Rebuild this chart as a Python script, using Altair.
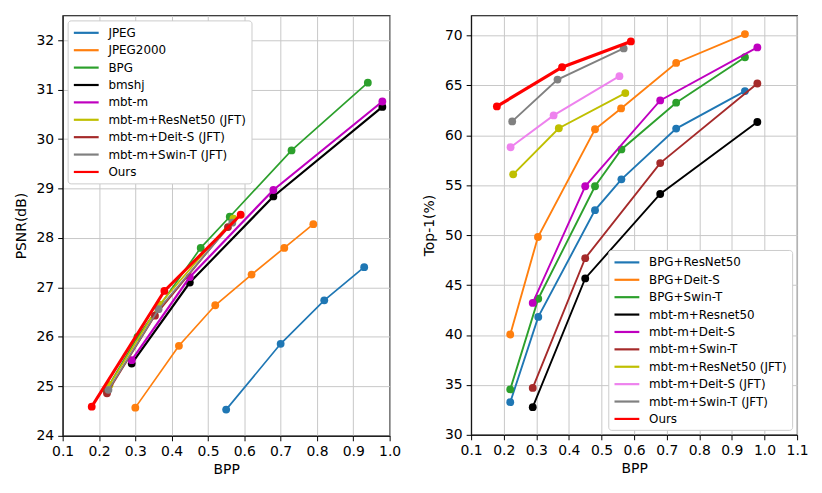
import altair as alt
import pandas as pd

FONT = "DejaVu Sans"

# ---------------- Left panel: PSNR vs BPP ----------------
left_names = ["JPEG", "JPEG2000", "BPG", "bmshj", "mbt-m",
              "mbt-m+ResNet50 (JFT)", "mbt-m+Deit-S (JFT)", "mbt-m+Swin-T (JFT)", "Ours"]
left_colors = ["#1f77b4", "#ff7f0e", "#2ca02c", "#000000", "#bf00bf",
               "#bfbf00", "#a52a2a", "#808080", "#ff0000"]
left_widths = [1.7, 1.7, 1.7, 2.2, 2.2, 1.7, 1.7, 1.7, 3.0]

jpeg_bpp = [0.55, 0.70, 0.82, 0.93]
jpeg_psnr = [24.53, 25.86, 26.74, 27.41]
jp2k_bpp = [0.30, 0.42, 0.52, 0.62, 0.71, 0.79]
jp2k_psnr = [24.57, 25.82, 26.64, 27.26, 27.80, 28.28]
bpg_bpp = [0.22, 0.306, 0.48, 0.56, 0.73, 0.94]
bpg_psnr = [24.93, 26.00, 27.80, 28.43, 29.77, 31.14]
bmshj_bpp = [0.29, 0.45, 0.68, 0.98]
bmshj_psnr = [25.46, 27.10, 28.84, 30.65]
mbt_bpp = [0.29, 0.45, 0.68, 0.98]
mbt_psnr = [25.53, 27.21, 28.97, 30.76]
res_jft_bpp_l = [0.229, 0.366, 0.570]
res_jft_psnr = [25.03, 26.65, 28.39]
deit_jft_bpp_l = [0.222, 0.354, 0.555]
deit_jft_psnr = [24.86, 26.43, 28.22]
swin_jft_bpp_l = [0.226, 0.364, 0.567]
swin_jft_psnr = [24.93, 26.56, 28.31]
ours_bpp_l = [0.18, 0.38, 0.59]
ours_psnr = [24.59, 26.93, 28.47]

left_series = [
    (jpeg_bpp, jpeg_psnr), (jp2k_bpp, jp2k_psnr), (bpg_bpp, bpg_psnr),
    (bmshj_bpp, bmshj_psnr), (mbt_bpp, mbt_psnr),
    (res_jft_bpp_l, res_jft_psnr), (deit_jft_bpp_l, deit_jft_psnr),
    (swin_jft_bpp_l, swin_jft_psnr), (ours_bpp_l, ours_psnr),
]

# ---------------- Right panel: Top-1 vs BPP ----------------
right_names = ["BPG+ResNet50", "BPG+Deit-S", "BPG+Swin-T", "mbt-m+Resnet50",
               "mbt-m+Deit-S", "mbt-m+Swin-T", "mbt-m+ResNet50 (JFT)",
               "mbt-m+Deit-S (JFT)", "mbt-m+Swin-T (JFT)", "Ours"]
right_colors = ["#1f77b4", "#ff7f0e", "#2ca02c", "#000000", "#bf00bf",
                "#a52a2a", "#bfbf00", "#ee82ee", "#808080", "#ff0000"]
right_widths = [1.9, 1.9, 1.9, 1.9, 1.9, 1.9, 1.9, 1.9, 1.9, 3.2]

bpg_res_bpp = [0.22, 0.306, 0.48, 0.561, 0.729, 0.94]
bpg_res_acc = [33.27, 41.81, 52.50, 55.59, 60.67, 64.42]
bpg_deit_bpp = [0.22, 0.305, 0.48, 0.56, 0.729, 0.94]
bpg_deit_acc = [40.05, 49.81, 60.60, 62.69, 67.24, 70.13]
bpg_swin_bpp = [0.22, 0.306, 0.48, 0.561, 0.729, 0.94]
bpg_swin_acc = [34.55, 43.63, 54.89, 58.58, 63.26, 67.81]
mbt_res_bpp = [0.289, 0.45, 0.68, 0.978]
mbt_res_acc = [32.77, 45.66, 54.12, 61.33]
mbt_deit_bpp = [0.289, 0.45, 0.68, 0.978]
mbt_deit_acc = [43.21, 54.89, 63.49, 68.80]
mbt_swin_bpp = [0.289, 0.45, 0.68, 0.978]
mbt_swin_acc = [34.70, 47.69, 57.21, 65.18]
res_jft_bpp_r = [0.229, 0.369, 0.573]
res_jft_acc = [56.09, 60.70, 64.22]
deit_jft_bpp_r = [0.221, 0.353, 0.555]
deit_jft_acc = [58.80, 61.99, 65.92]
swin_jft_bpp_r = [0.226, 0.365, 0.568]
swin_jft_acc = [61.39, 65.58, 68.70]
ours_bpp_r = [0.179, 0.379, 0.59]
ours_acc = [62.89, 66.81, 69.40]

right_series = [
    (bpg_res_bpp, bpg_res_acc), (bpg_deit_bpp, bpg_deit_acc), (bpg_swin_bpp, bpg_swin_acc),
    (mbt_res_bpp, mbt_res_acc), (mbt_deit_bpp, mbt_deit_acc), (mbt_swin_bpp, mbt_swin_acc),
    (res_jft_bpp_r, res_jft_acc), (deit_jft_bpp_r, deit_jft_acc),
    (swin_jft_bpp_r, swin_jft_acc), (ours_bpp_r, ours_acc),
]


def to_df(names, series):
    rows = []
    for n, (xs, ys) in zip(names, series):
        for i, (x, y) in enumerate(zip(xs, ys)):
            rows.append({"series": n, "bpp": x, "val": y, "idx": i})
    return pd.DataFrame(rows)


def panel(names, series, colors, widths, ytitle, ydomain, yticks,
          xdomain, xticks, legend_orient, w, h):
    df = to_df(names, series)
    cscale = alt.Scale(domain=names, range=colors)
    legend = alt.Legend(
        title=None, orient=legend_orient, offset=5,
        symbolType="M-1,0H3", symbolSize=156, symbolStrokeWidth=2.2,
        labelFont=FONT, labelFontSize=12, labelColor="black",
        labelOffset=21, rowPadding=3.5,
        fillColor="white", strokeColor="#cccccc", cornerRadius=3, padding=5,
        labelLimit=400,
    )
    x = alt.X("bpp:Q", scale=alt.Scale(domain=xdomain, nice=False, zero=False),
              axis=alt.Axis(values=xticks, format=".1f", title="BPP",
                            labelFlush=False, labelOverlap=False))
    y = alt.Y("val:Q", scale=alt.Scale(domain=ydomain, nice=False, zero=False),
              axis=alt.Axis(values=yticks, format="d", title=ytitle, titlePadding=8))
    layers = []
    for n, sw in zip(names, widths):
        base = alt.Chart(df).transform_filter(alt.datum.series == n)
        line = base.mark_line(strokeWidth=sw).encode(
            x=x, y=y,
            color=alt.Color("series:N", scale=cscale, legend=legend),
            order="idx:Q",
        )
        pts = base.mark_circle(size=62, opacity=1).encode(
            x=x, y=y,
            color=alt.Color("series:N", scale=cscale, legend=None),
        )
        layers += [line, pts]
    return alt.layer(*layers).properties(width=w, height=h)


left = panel(left_names, left_series, left_colors, left_widths, "PSNR(dB)",
             [24, 32.5], list(range(24, 33)),
             [0.1, 1.0], [round(0.1 * i, 1) for i in range(1, 11)],
             "top-left", 329, 423)
right = panel(right_names, right_series, right_colors, right_widths, "Top-1(%)",
              [30, 72], list(range(30, 71, 5)),
              [0.1, 1.1], [round(0.1 * i, 1) for i in range(1, 12)],
              "bottom-right", 328, 422)

chart = alt.hconcat(left, right, spacing=20).resolve_scale(
    color="independent"
).resolve_legend(color="independent").properties(
    background="white"
).configure_axis(
    labelFont=FONT, titleFont=FONT, labelFontSize=14, titleFontSize=14,
    titleFontWeight="normal", labelColor="black", titleColor="black",
    tickColor="black", domainColor="black", tickSize=5, labelPadding=4,
    gridColor="#c8c8c8", gridWidth=1,
).configure_view(stroke="black", strokeWidth=1.2)

chart.save("out.html", embed_options={"renderer": "svg", "actions": False})
